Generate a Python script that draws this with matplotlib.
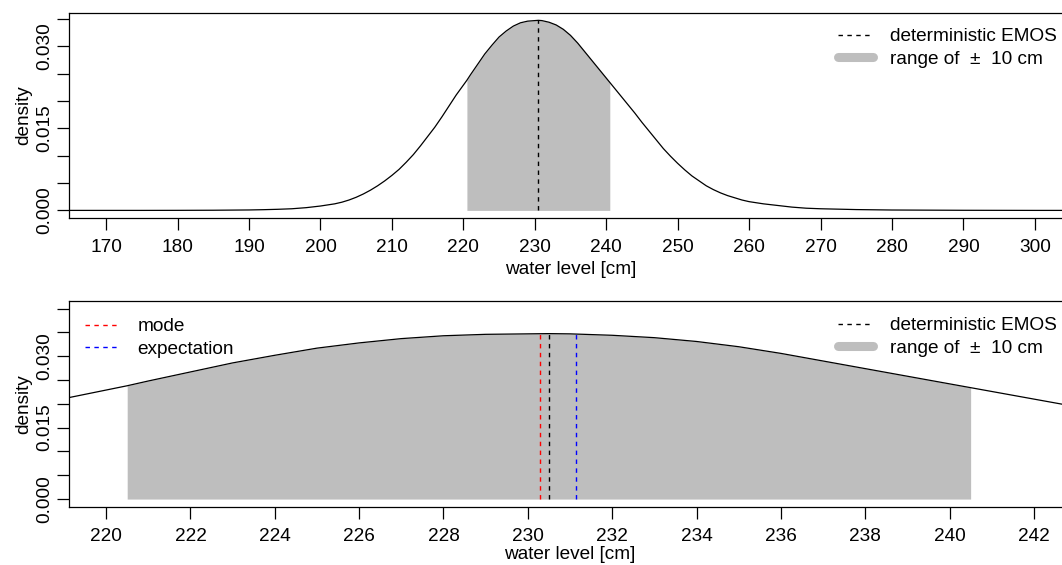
import numpy as np
import matplotlib.pyplot as plt
from matplotlib.lines import Line2D

plt.rcParams['font.family'] = ['Liberation Sans', 'DejaVu Sans']

# density of the forecast distribution
water_level = np.array([
    164, 170, 175, 180, 185, 190, 192, 194, 196, 198, 199, 200, 201, 202,
    203, 204, 205, 206, 207, 208, 209, 210, 211, 212, 213, 214, 215, 216,
    217, 218, 219, 220, 220.5, 221, 222, 223, 224, 225, 226, 227, 228, 229,
    230, 230.5, 231, 232, 233, 234, 235, 236, 237, 238, 239, 240, 240.5,
    241, 242, 243, 244, 245, 246, 247, 248, 249, 250, 251, 252, 253, 254,
    255, 256, 257, 258, 259, 260, 262, 264, 266, 268, 270, 275, 280, 290,
    300, 306])
density = np.array([
    0.0, 0.0, 0.0, 0.00001, 0.00003, 0.00008, 0.00013, 0.0002, 0.0003,
    0.0005, 0.00065, 0.0008, 0.0010, 0.0012, 0.0015, 0.0019, 0.0024, 0.0030,
    0.0037, 0.0045, 0.0054, 0.0064, 0.0075, 0.0088, 0.0102, 0.0118, 0.0135,
    0.0152, 0.0171, 0.0191, 0.0211, 0.0229, 0.0238, 0.0248, 0.0267, 0.0286,
    0.0302, 0.0317, 0.0328, 0.0337, 0.0343, 0.0346, 0.0347, 0.03475, 0.0347,
    0.0344, 0.0339, 0.0331, 0.0320, 0.0306, 0.0290, 0.0274, 0.0258, 0.0242,
    0.0234, 0.0226, 0.0210, 0.0194, 0.0178, 0.0161, 0.0145, 0.0129, 0.0113,
    0.0099, 0.0086, 0.0074, 0.0063, 0.0054, 0.0045, 0.0038, 0.0032, 0.0027,
    0.0023, 0.0019, 0.0016, 0.0012, 0.0009, 0.0006, 0.0004, 0.0003, 0.00015,
    0.00007, 0.00002, 0.0, 0.0])

range_low, range_high = 220.5, 240.5
det_emos, det_height = 230.5, 0.03475
mode, mode_height = 230.3, 0.0347
expectation, exp_height = 231.14, 0.0346

top_xticks = list(range(170, 301, 10))
bot_xticks = list(range(220, 243, 2))
top_yticks = [0.0, 0.005, 0.010, 0.015, 0.020, 0.025, 0.030, 0.035]
bot_yticks = top_yticks + [0.040]
ytick_labels = ["0.000", "", "", "0.015", "", "", "0.030", "", ""]

GREY = "#BEBEBE"
FS = 13.7
DASH = (0, (3.2, 3.2))
W, H = 1062, 565
RANGE_LABEL = "range of  \u00b1  10 cm"


def style_axes(ax, xticks, yticks, xlim, ylim, xpad):
    ax.set_xlim(*xlim)
    ax.set_ylim(*ylim)
    ax.set_xticks(xticks)
    ax.set_xticklabels([str(t) for t in xticks])
    ax.set_yticks(yticks)
    ax.set_yticklabels(ytick_labels[:len(yticks)], rotation=90, va="center")
    ax.tick_params(direction="out", length=8.4, width=0.9, labelsize=FS)
    ax.tick_params(axis="x", pad=7)
    ax.tick_params(axis="y", pad=3)
    for sp in ax.spines.values():
        sp.set_linewidth(0.9)
    ax.set_xlabel("water level [cm]", fontsize=FS, labelpad=xpad)
    ax.set_ylabel("density", fontsize=FS, labelpad=3)


def draw_density(ax):
    inside = (water_level >= range_low) & (water_level <= range_high)
    ax.fill_between(water_level, 0, density, where=inside, color=GREY, lw=0)
    ax.plot(water_level, density, color="black", lw=0.9)


fig = plt.figure(figsize=(W / 100, H / 100), dpi=100)
ax_top = fig.add_axes([69 / W, 1 - 218 / H, (1072 - 69) / W, 205 / H])
ax_bot = fig.add_axes([69 / W, 1 - 506.7 / H, (1071 - 69) / W, 205.7 / H])

emos_handle = Line2D([], [], color="black", lw=1, ls=DASH)
range_handle = Line2D([], [], color=GREY, lw=6.5, solid_capstyle="round")
legend_kw = dict(frameon=False, loc="upper left", borderpad=0, borderaxespad=0,
                 handlelength=1.85, handletextpad=0.9, labelspacing=0.28,
                 fontsize=FS, bbox_transform=fig.transFigure)

# top panel
draw_density(ax_top)
ax_top.vlines(det_emos, 0, det_height, color="black", lw=1, linestyles=[DASH])
style_axes(ax_top, top_xticks, top_yticks, (164.8, 305.2), (-0.00139, 0.03609), 3.5)
ax_top.legend([emos_handle, range_handle], ["deterministic EMOS", RANGE_LABEL],
              bbox_to_anchor=(838 / W, 1 - 28 / H), **legend_kw)

# bottom panel
draw_density(ax_bot)
ax_bot.vlines(mode, 0, mode_height, color="red", lw=1, linestyles=[DASH])
ax_bot.vlines(det_emos, 0, det_height, color="black", lw=1, linestyles=[DASH])
ax_bot.vlines(expectation, 0, exp_height, color="blue", lw=1, linestyles=[DASH])
style_axes(ax_bot, bot_xticks, bot_yticks, (219.12, 242.88), (-0.0016, 0.0416), 0.5)
leg_right = ax_bot.legend([emos_handle, range_handle],
                          ["deterministic EMOS", RANGE_LABEL],
                          bbox_to_anchor=(838 / W, 1 - 317 / H), **legend_kw)
ax_bot.add_artist(leg_right)
ax_bot.legend([Line2D([], [], color="red", lw=1, ls=DASH),
               Line2D([], [], color="blue", lw=1, ls=DASH)],
              ["mode", "expectation"],
              bbox_to_anchor=(85 / W, 1 - 318 / H), **legend_kw)

fig.savefig("out.png", dpi=100)
